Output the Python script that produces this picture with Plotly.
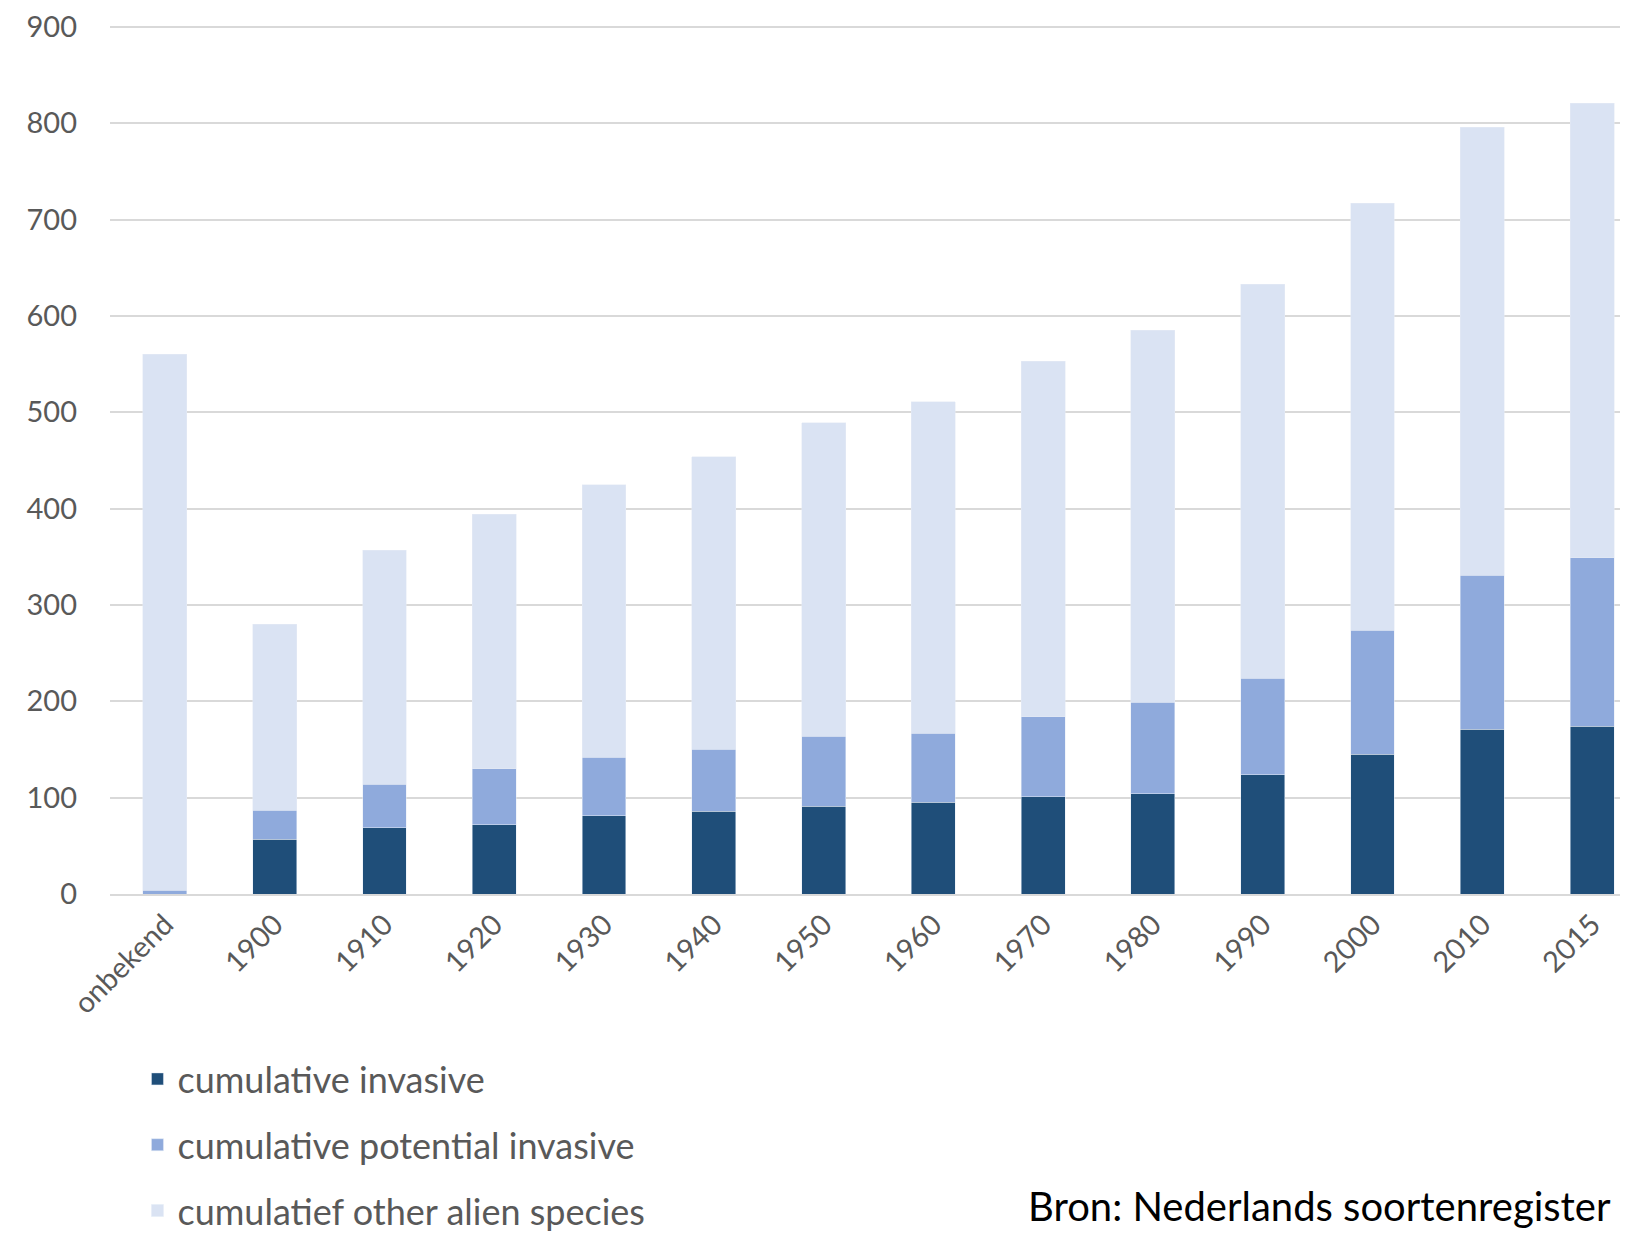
import plotly.graph_objects as go

categories = ["onbekend", "1900", "1910", "1920", "1930", "1940", "1950", "1960",
              "1970", "1980", "1990", "2000", "2010", "2015"]
invasive = [0, 57, 69, 72, 81, 86, 91, 95, 101, 104, 124, 145, 171, 174]
potential = [4, 30, 45, 58, 61, 64, 73, 72, 83, 95, 100, 129, 160, 175]
other = [556, 193, 243, 264, 283, 304, 325, 344, 369, 386, 409, 443, 465, 472]
y_ticks = [0, 100, 200, 300, 400, 500, 600, 700, 800, 900]

FONT = "Lato, Carlito, Open Sans, sans-serif"

fig = go.Figure()
fig.add_trace(go.Bar(x=categories, y=invasive, name="cumulative invasive",
                     marker_color="#1F4E79", legendgroup="a", width=0.4))
fig.add_trace(go.Bar(x=categories, y=potential, name="cumulative potential invasive",
                     marker_color="#8FAADC", legendgroup="b", width=0.4))
fig.add_trace(go.Bar(x=categories, y=other, name="cumulatief other alien species",
                     marker_color="#DAE3F3", legendgroup="c", width=0.4))

fig.update_layout(
    barmode="stack",
    width=1628, height=1233,
    margin=dict(l=102, r=0, t=15, b=345),
    paper_bgcolor="white", plot_bgcolor="white",
    font=dict(family=FONT, color="#595959"),
    legend=dict(orientation="v", x=0.018, xanchor="left", y=-0.1785, yanchor="top",
                traceorder="grouped", tracegroupgap=16,
                font=dict(size=36, color="#595959"),
                itemwidth=30, bgcolor="rgba(0,0,0,0)"),
    showlegend=True,
)
fig.update_xaxes(range=[-0.5, 13.4], tickangle=-45, tickfont=dict(size=29, color="#595959"),
                 showgrid=False, showline=True, linecolor="#D9D9D9", linewidth=2,
                 ticks="", fixedrange=True)
fig.update_yaxes(range=[0, 902], tickvals=y_ticks, tickfont=dict(size=29, color="#595959"),
                 showgrid=True, gridcolor="#D9D9D9", gridwidth=2, zeroline=False,
                 showline=False, ticks="", ticklabelstandoff=32, ticklabeloverflow="allow")

fig.add_annotation(text="Bron: Nederlands soortenregister", xref="paper", yref="paper",
                   x=0.985, y=-0.389, xanchor="right", yanchor="bottom", showarrow=False,
                   font=dict(size=40, color="#000000", family=FONT))

fig.write_html("out.html")
